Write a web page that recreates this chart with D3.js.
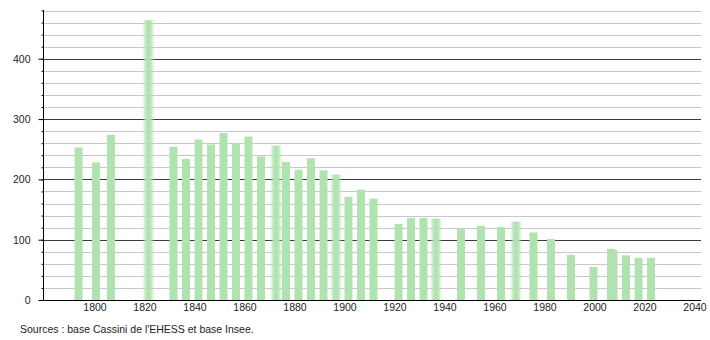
<!DOCTYPE html>
<html>
<head>
<meta charset="utf-8">
<script src="https://cdn.jsdelivr.net/npm/d3@7.9.0/dist/d3.min.js"></script>
<style>
  body { margin: 0; background: #fff; }
  svg { display: block; font-family: 'Liberation Sans', Arial, sans-serif; }
</style>
</head>
<body>
<svg id="chart" width="710" height="340"></svg>
<script>
// census years and population
const years = [1793, 1800, 1806, 1821, 1831, 1836, 1841, 1846, 1851, 1856, 1861, 1866,
  1872, 1876, 1881, 1886, 1891, 1896, 1901, 1906, 1911, 1921, 1926, 1931, 1936,
  1946, 1954, 1962, 1968, 1975, 1982, 1990, 1999, 2006, 2007, 2012, 2017, 2022];
const population = [253, 228, 274, 464, 254, 234, 266, 258, 277, 260, 271, 238,
  256, 229, 216, 235, 215, 208, 171, 183, 168, 126, 136, 136, 135,
  119, 123, 121, 130, 112, 101, 75, 55, 85, 83, 74, 70, 70];
// bars drawn fuzzy in the original
const fuzzyYears = [1821, 1872, 1896, 1936, 1968];
const xTicks = [1800, 1820, 1840, 1860, 1880, 1900, 1920, 1940, 1960, 1980, 2000, 2020, 2040];
const yMajor = [0, 100, 200, 300, 400];
const yMinor = d3.range(0, 481, 20);
const source = "Sources : base Cassini de l'EHESS et base Insee.";

const svg = d3.select('#chart');
const plotLeft = 43.5, plotRight = 701, plotTop = 10.5, plotBottom = 300;

const x = d3.scaleLinear().domain([1779.6, 2042.6]).range([plotLeft, plotRight]);
const y = d3.scaleLinear().domain([0, 480]).range([plotBottom, plotTop]);

const defs = svg.append('defs');
defs.append('filter')
  .attr('id', 'fuzz')
  .attr('x', '-50%').attr('width', '200%')
  .append('feGaussianBlur')
  .attr('stdDeviation', '1.4 0');

// gridlines
svg.append('g')
  .selectAll('line')
  .data(yMinor.filter((d) => d > 0))
  .join('line')
  .attr('x1', plotLeft).attr('x2', plotRight)
  .attr('y1', (d) => Math.round(y(d)) + 0.5)
  .attr('y2', (d) => Math.round(y(d)) + 0.5)
  .attr('stroke', (d) => (d % 100 === 0 ? '#3a3a3a' : '#c8c8c8'))
  .attr('stroke-width', 1);

// bars
const data = years.map((yr, i) => ({ year: yr, value: population[i] }));
svg.append('g')
  .selectAll('rect')
  .data(data)
  .join('rect')
  .attr('x', (d) => x(d.year) - 2.5)
  .attr('width', 8)
  .attr('y', (d) => y(d.value))
  .attr('height', (d) => y(0) - y(d.value))
  .attr('fill', '#b1e3b1')
  .attr('filter', (d) => (fuzzyYears.includes(d.year) ? 'url(#fuzz)' : null));

// y axis: minor then major ticks
const yAxisMinor = d3.axisLeft(y).tickValues(yMinor).tickSize(2).tickFormat('');
const yAxisMajor = d3.axisLeft(y).tickValues(yMajor).tickSize(5).tickPadding(8);

svg.append('g')
  .attr('transform', `translate(${plotLeft},0)`)
  .call(yAxisMinor)
  .call((g) => g.select('.domain').remove());

svg.append('g')
  .attr('transform', `translate(${plotLeft},0)`)
  .call(yAxisMajor)
  .call((g) => g.select('.domain').remove())
  .call((g) => g.selectAll('text').attr('font-size', 10.5).attr('fill', '#222').attr('font-family', null));

svg.append('line')
  .attr('x1', plotLeft).attr('x2', plotLeft)
  .attr('y1', plotTop - 0.5).attr('y2', plotBottom)
  .attr('stroke', '#000');

// x axis
const xAxis = d3.axisBottom(x).tickValues(xTicks).tickSize(0).tickPadding(4).tickFormat(d3.format('d'));
svg.append('g')
  .attr('transform', `translate(0,${plotBottom})`)
  .call(xAxis)
  .call((g) => g.select('.domain').remove())
  .call((g) => g.selectAll('text').attr('font-size', 10.5).attr('fill', '#222').attr('font-family', null));

svg.append('line')
  .attr('x1', plotLeft).attr('x2', plotRight)
  .attr('y1', plotBottom + 0.5).attr('y2', plotBottom + 0.5)
  .attr('stroke', '#000');

// source note
svg.append('text')
  .attr('x', 20)
  .attr('y', 333)
  .attr('font-size', 10.5)
  .attr('fill', '#222')
  .text(source);
</script>
</body>
</html>
